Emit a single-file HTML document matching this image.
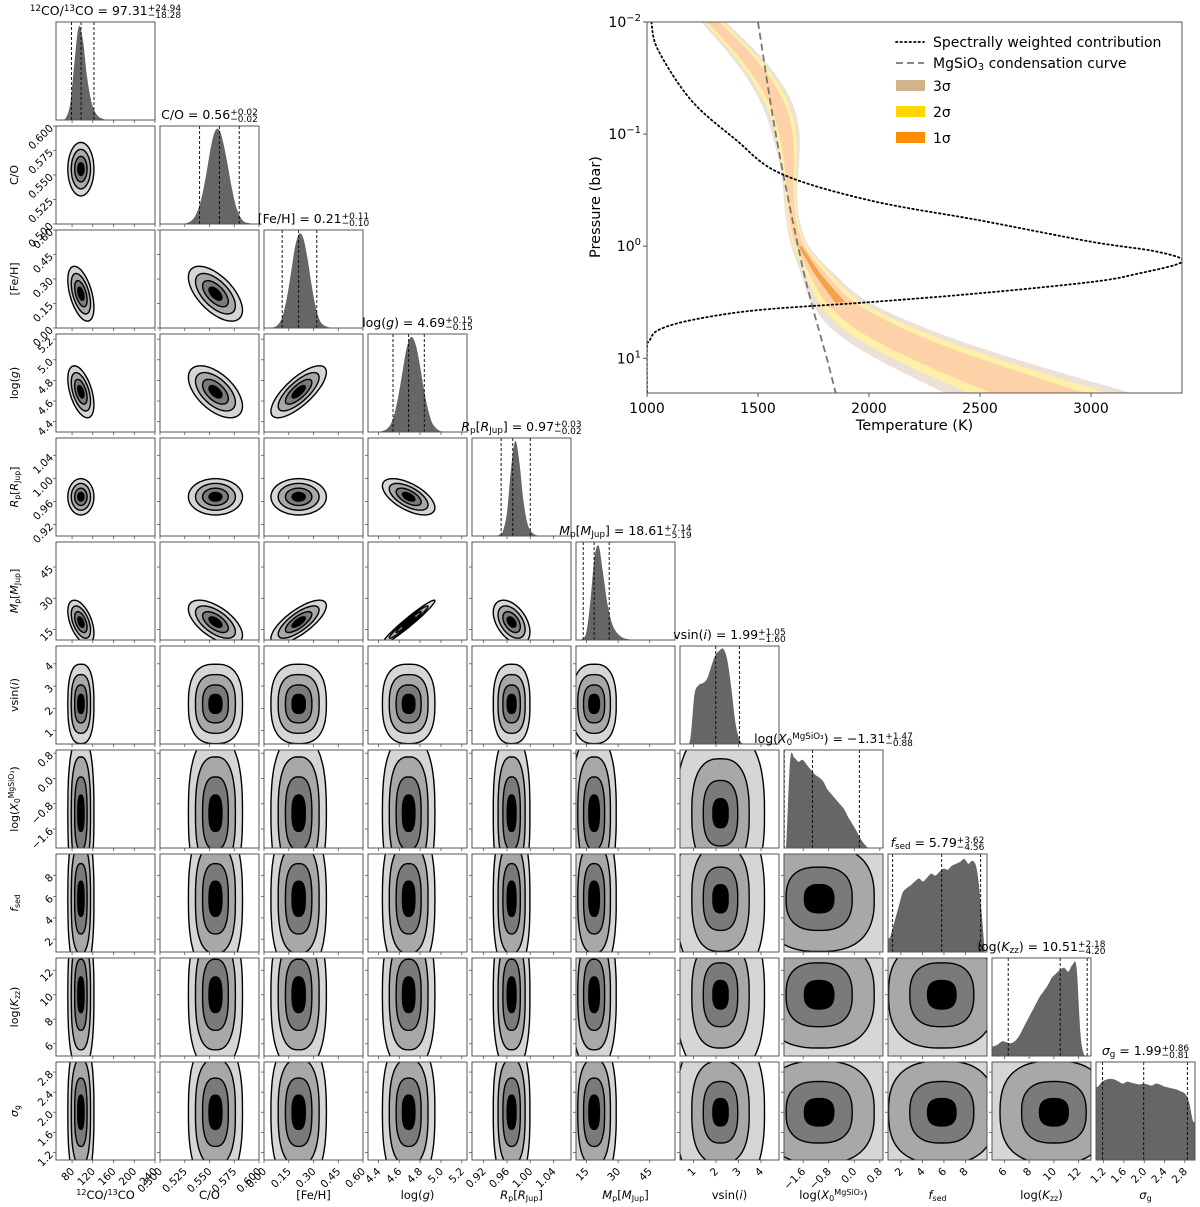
<!DOCTYPE html>
<html><head><meta charset="utf-8"><style>
html,body{margin:0;padding:0;background:#fff;}
svg{display:block;font-family:"DejaVu Sans","Liberation Sans",sans-serif;}
</style></head><body>
<svg id="fig" width="1200" height="1207" viewBox="0 0 1200 1207" xmlns="http://www.w3.org/2000/svg">
<defs id="defs"></defs>
<g id="corner"></g>
<g id="pt"></g>
</svg>
<script>
// ===== Corner plot data =====
const paramNames = ["12CO/13CO","C/O","[Fe/H]","log(g)","Rp","Mp","vsini","logX","fsed","logKzz","sigma_g"];
const medians = [97.31,0.56,0.21,4.69,0.97,18.61,1.99,-1.31,5.79,10.51,1.99];
const errHi = [24.94,0.02,0.11,0.15,0.03,7.14,1.05,1.47,3.62,2.18,0.86];
const errLo = [18.28,0.02,0.10,0.15,0.02,5.19,1.60,0.88,4.56,4.20,0.81];
const rangeLo = [49,0.5,0,4.3,0.9,10,0.4,-2.2,0.8,5,1.05];
const rangeHi = [240,0.6,0.6,5.25,1.07,57,4.8,0.9,10,13,3.0];
const spread = [12,0.013,0.08,0.12,0.015,5,0.85,1.15,3.3,2.9,0.68];
const centers2d = [97,0.556,0.21,4.69,0.968,18.6,2.2,-1.1,5.8,10.0,2.0];
const corrPairs = [[2,0,-0.5],[3,0,-0.5],[3,1,-0.55],[2,1,-0.6],[3,2,0.75],[4,3,-0.6],[5,0,-0.5],[5,1,-0.6],[5,2,0.75],[5,3,0.97],[5,4,-0.45]];
const ticks = [[80,120,160,200,240],[0.5,0.525,0.55,0.575,0.6],[0,0.15,0.3,0.45,0.6],[4.4,4.6,4.8,5.0,5.2],[0.92,0.96,1.00,1.04],[15,30,45],[1,2,3,4],[-1.6,-0.8,0.0,0.8],[2,4,6,8],[6,8,10,12],[1.2,1.6,2.0,2.4,2.8]];
const tickLabels = [["80","120","160","200","240"],["0.500","0.525","0.550","0.575","0.600"],["0.00","0.15","0.30","0.45","0.60"],["4.4","4.6","4.8","5.0","5.2"],["0.92","0.96","1.00","1.04"],["15","30","45"],["1","2","3","4"],["−1.6","−0.8","0.0","0.8"],["2","4","6","8"],["6","8","10","12"],["1.2","1.6","2.0","2.4","2.8"]];
const hist0 = [0,0,0.03,0.18,0.6,0.95,0.82,0.45,0.2,0.08,0.03,0.01,0,0,0,0,0,0,0,0,0,0,0,0];
const hist1 = [0,0,0,0,0,0,0.01,0.03,0.08,0.18,0.35,0.58,0.82,0.96,0.95,0.8,0.58,0.35,0.17,0.07,0.02,0.01,0,0];
const hist2 = [0,0,0.01,0.04,0.12,0.3,0.55,0.82,0.96,0.92,0.72,0.45,0.22,0.08,0.03,0.01,0,0,0,0,0,0,0,0];
const hist3 = [0,0,0,0.01,0.03,0.08,0.2,0.4,0.65,0.88,0.97,0.9,0.7,0.45,0.24,0.1,0.04,0.01,0,0,0,0,0,0];
const hist4 = [0,0,0,0,0,0,0.01,0.05,0.25,0.7,0.97,0.75,0.35,0.12,0.04,0.01,0,0,0,0,0,0,0,0];
const hist5 = [0,0.01,0.08,0.4,0.85,0.96,0.7,0.4,0.2,0.1,0.05,0.02,0.01,0,0,0,0,0,0,0,0,0,0,0];
const hist6 = [0,0,0.05,0.5,0.6,0.62,0.66,0.78,0.9,0.95,0.97,0.85,0.55,0.2,0.04,0,0,0,0,0,0,0,0,0];
const hist7 = [0,0.9,0.92,0.88,0.9,0.85,0.8,0.75,0.72,0.68,0.6,0.55,0.5,0.45,0.4,0.32,0.25,0.18,0.1,0.04,0,0,0,0];
const hist8 = [0.15,0.3,0.45,0.6,0.65,0.68,0.72,0.75,0.72,0.76,0.8,0.78,0.82,0.85,0.84,0.88,0.9,0.92,0.95,0.9,0.93,0.85,0.5,0];
const hist9 = [0.1,0.12,0.15,0.14,0.13,0.15,0.2,0.28,0.36,0.44,0.52,0.6,0.66,0.72,0.8,0.84,0.88,0.9,0.86,0.93,0.9,0.2,0,0];
const hist10 = [0.75,0.8,0.82,0.83,0.82,0.8,0.78,0.8,0.79,0.78,0.77,0.78,0.77,0.76,0.78,0.77,0.75,0.74,0.73,0.72,0.7,0.68,0.6,0.4];
const hists = [hist0,hist1,hist2,hist3,hist4,hist5,hist6,hist7,hist8,hist9,hist10];

// ===== PT plot data =====
const ptLogP = [-2,-1.75,-1.5,-1.25,-1,-0.75,-0.5,-0.25,0,0.25,0.5,0.75,1,1.31];
const ptTcenter = [1300,1420,1520,1590,1625,1640,1645,1655,1690,1770,1870,2060,2340,2760];
const ptHalfWidth = [55,65,70,70,62,45,32,30,40,75,130,220,310,420];
const condLogP = [-2,-1,0,0.5,1,1.31];
const condT = [1500,1580,1680,1740,1810,1850];
const contribT = [1020,1050,1200,1400,1600,2000,2500,3000,3300,3410,3200,3000,2500,2000,1500,1200,1050,1010,1000,1000];
const contribLogP = [-2,-1.75,-1.3,-0.95,-0.65,-0.41,-0.23,-0.04,0.05,0.14,0.25,0.32,0.42,0.5,0.57,0.66,0.75,0.85,0.9,1.31];
const ptXTicks = [1000,1500,2000,2500,3000];
const ptYTicks = [-2,-1,0,1];

const NS="http://www.w3.org/2000/svg";
function mk(tag,attrs,parent){const e=document.createElementNS(NS,tag);for(const k in attrs)e.setAttribute(k,attrs[k]);if(parent)parent.appendChild(e);return e;}
const corner=document.getElementById('corner');
const defs=document.getElementById('defs');
const N=11, L0=56, T0=22, STEP=104, W=99, H=98;
function pl(c){return L0+c*STEP;}
function pt(r){return T0+r*STEP;}
function sx(c,v){return pl(c)+(v-rangeLo[c])/(rangeHi[c]-rangeLo[c])*W;}
function sy(r,v){return pt(r)+H-(v-rangeLo[r])/(rangeHi[r]-rangeLo[r])*H;}
function corr(i,j){for(const p of corrPairs){if((p[0]===i&&p[1]===j)||(p[0]===j&&p[1]===i))return p[2];}return 0;}
function fmt(v){return v.toFixed(2);}
function smoothPath(pts){
  let d=`M${pts[0][0].toFixed(1)},${pts[0][1].toFixed(1)}`;
  for(let i=0;i<pts.length-1;i++){
    const p0=pts[Math.max(0,i-1)],p1=pts[i],p2=pts[i+1],p3=pts[Math.min(pts.length-1,i+2)];
    const c1=[p1[0]+(p2[0]-p0[0])/6,p1[1]+(p2[1]-p0[1])/6],c2=[p2[0]-(p3[0]-p1[0])/6,p2[1]-(p3[1]-p1[1])/6];
    d+=` C${c1[0].toFixed(1)},${c1[1].toFixed(1)} ${c2[0].toFixed(1)},${c2[1].toFixed(1)} ${p2[0].toFixed(1)},${p2[1].toFixed(1)}`;
  }
  return d;
}

function addLabelText(parent,idx,x,y,size,anchor,rot){
  const t=mk('text',{x:x,y:y,'font-size':size,'text-anchor':anchor,fill:'#000'},parent);
  if(rot)t.setAttribute('transform',`rotate(${rot} ${x} ${y})`);
  const sub=(s)=>{const ts=mk('tspan',{'font-size':size*0.7,'baseline-shift':'-25%'},t);ts.textContent=s;};
  const sup=(s)=>{const ts=mk('tspan',{'font-size':size*0.7,'baseline-shift':'45%'},t);ts.textContent=s;};
  const norm=(s,it)=>{const ts=mk('tspan',{},t);ts.textContent=s;if(it)ts.setAttribute('font-style','italic');};
  switch(idx){
    case 0: sup('12');norm('CO/');sup('13');norm('CO');break;
    case 1: norm('C/O');break;
    case 2: norm('[Fe/H]');break;
    case 3: norm('log(');norm('g',true);norm(')');break;
    case 4: norm('R',true);sub('p');norm('[');norm('R',true);sub('Jup');norm(']');break;
    case 5: norm('M',true);sub('p');norm('[');norm('M',true);sub('Jup');norm(']');break;
    case 6: norm('vsin(');norm('i',true);norm(')');break;
    case 7: norm('log(');norm('X',true);sub('0');sup('MgSiO₃');norm(')');break;
    case 8: norm('f',true);sub('sed');break;
    case 9: norm('log(');norm('K',true);sub('zz');norm(')');break;
    case 10: norm('σ',true);sub('g');break;
  }
  return t;
}

const broad=[false,false,false,false,false,false,true,true,true,true,true];
for(let r=0;r<N;r++){
  for(let c=0;c<=r;c++){
    const g=mk('g',{},corner);
    
    
    const cid=`clip${r}_${c}`;
    const cp=mk('clipPath',{id:cid},defs);
    mk('rect',{x:pl(c),y:pt(r),width:W,height:H},cp);
    const inner=mk('g',{'clip-path':`url(#${cid})`},g);
    if(r===c){
      const h=hists[c];const nb=h.length;const bw=W/nb;
      const pts=[[pl(c),pt(r)+H-h[0]*H]];
      for(let k=0;k<nb;k++)pts.push([pl(c)+(k+0.5)*bw,pt(r)+H-h[k]*H]);
      pts.push([pl(c)+W,pt(r)+H-h[nb-1]*H]);
      const d=smoothPath(pts)+` L${pl(c)+W},${pt(r)+H} L${pl(c)},${pt(r)+H} Z`;
      const p=mk('path',{d:d,fill:'#666',stroke:'none'},inner);
      
      
      [medians[c]-errLo[c],medians[c],medians[c]+errHi[c]].forEach(v=>{
        const ln=mk('line',{x1:sx(c,v),x2:sx(c,v),y1:pt(r),y2:pt(r)+H,stroke:'#000','stroke-width':0.9,'stroke-dasharray':'3,2'},inner);
        
        
      });
      const tx=pl(c)+W/2, ty=pt(r)-7;
      const tt=addLabelText(g,c,tx,ty,12.5,'middle',0);
      const eq=mk('tspan',{},tt);eq.textContent=` = ${fmt(medians[c]).replace('-','−')}`;
      const s1=mk('tspan',{'font-size':9,'baseline-shift':'45%'},tt);s1.textContent=`+${fmt(errHi[c])}`;
      const s2=mk('tspan',{'font-size':9,'baseline-shift':'-30%'},tt);s2.textContent=`−${fmt(errLo[c])}`;
      const wlen=s1.getComputedTextLength?s1.getComputedTextLength():28;
      s2.setAttribute('dx',-(wlen||28));
      
      
    } else {
      const rho=corr(r,c);
      const bb=broad[r]&&broad[c];
      const levels=bb?[2.3,1.5,0.9,0.4]:[2.1,1.55,1.0,0.5];
      const fills=['#d6d6d6','#a8a8a8','#7a7a7a','#000'];
      const ex=(broad[r]||broad[c])?2/2.6:1; // superellipse exponent (1 = ellipse)
      levels.forEach((k,li)=>{
        let d='';
        for(let a=0;a<=72;a++){
          const t=a/72*2*Math.PI;
          const ct=Math.sign(Math.cos(t))*Math.pow(Math.abs(Math.cos(t)),ex);
          const st=Math.sign(Math.sin(t))*Math.pow(Math.abs(Math.sin(t)),ex);
          const vx=centers2d[c]+k*spread[c]*ct;
          const vy=centers2d[r]+k*spread[r]*(rho*ct+Math.sqrt(1-rho*rho)*st);
          d+=(a?'L':'M')+sx(c,vx).toFixed(1)+','+sy(r,vy).toFixed(1);
        }
        const p=mk('path',{d:d+'Z',fill:fills[li],stroke:'#000','stroke-width':1.4},inner);
        
        
      });
    }
    const fr=mk('rect',{x:pl(c),y:pt(r),width:W,height:H,fill:'none',stroke:'#555','stroke-width':1},g);
    
    
    ticks[c].forEach(v=>{const x=sx(c,v);if(x>=pl(c)-0.5&&x<=pl(c)+W+0.5)mk('line',{x1:x,x2:x,y1:pt(r)+H,y2:pt(r)+H+3,stroke:'#555','stroke-width':0.8},g);});
    if(r!==c)ticks[r].forEach(v=>{const y=sy(r,v);if(y>=pt(r)-0.5&&y<=pt(r)+H+0.5)mk('line',{x1:pl(c)-3,x2:pl(c),y1:y,y2:y,stroke:'#555','stroke-width':0.8},g);});
  }
}
for(let c=0;c<N;c++){
  ticks[c].forEach((v,k)=>{
    const x=sx(c,v),y=pt(N-1)+H+6;
    const t=mk('text',{x:x+3,y:y+6,'font-size':10.5,'text-anchor':'end',transform:`rotate(-45 ${x+3} ${y+6})`},corner);
    t.textContent=tickLabels[c][k];
    
    
  });
  const xl=addLabelText(corner,c,pl(c)+W/2,1199,11.5,'middle',0);
  
  
}
for(let r=1;r<N;r++){
  ticks[r].forEach((v,k)=>{
    const y=sy(r,v),x=pl(0)-5;
    const t=mk('text',{x:x,y:y+4,'font-size':10.5,'text-anchor':'end',transform:`rotate(-45 ${x} ${y})`},corner);
    t.textContent=tickLabels[r][k];
    
    
  });
  const yl=addLabelText(corner,r,18,pt(r)+H/2,11,'middle',-90);
  
  
}

// ===== PT plot =====
const ptg=document.getElementById('pt');
const AX0=647,AX1=1182,AY0=22,AY1=393;
const T_LO=1000,T_HI=3410,P_LO=-2,P_HI=1.31;
function tX(T){return AX0+(T-T_LO)/(T_HI-T_LO)*(AX1-AX0);}
function pY(lp){return AY0+(lp-P_LO)/(P_HI-P_LO)*(AY1-AY0);}
mk('clipPath',{id:'ptclip'},defs).appendChild(mk('rect',{x:AX0,y:AY0,width:AX1-AX0,height:AY1-AY0}));
const pin=mk('g',{'clip-path':'url(#ptclip)'},ptg);
function band(frac,color,name,lpMin,lpMax){
  const idx=[];
  for(let i=0;i<ptLogP.length;i++)if(ptLogP[i]>=lpMin&&ptLogP[i]<=lpMax)idx.push(i);
  const left=idx.map(i=>[tX(ptTcenter[i]-frac*ptHalfWidth[i]),pY(ptLogP[i])]);
  const right=idx.slice().reverse().map(i=>[tX(ptTcenter[i]+frac*ptHalfWidth[i]),pY(ptLogP[i])]);
  const d=smoothPath(left)+' L'+smoothPath(right).slice(1)+'Z';
  const p=mk('path',{d:d,fill:color,stroke:'none'},pin);
  
  
}
band(1.0,'#ebe1d6','band-3sigma',-2,2);
band(0.75,'#fff0a8','band-2sigma',-2,2);
band(0.5,'#fdd2a8','band-1sigma',-2,2);
band(0.18,'#f7a048','band-1sigma-core',-0.1,0.6);
const cl=mk('path',{d:smoothPath(condLogP.map((lp,i)=>[tX(condT[i]),pY(lp)])),fill:'none',stroke:'#777','stroke-width':1.8,'stroke-dasharray':'7,4'},pin);


const ct=mk('path',{d:smoothPath(contribT.map((T,i)=>[tX(T),pY(contribLogP[i])])),fill:'none',stroke:'#000','stroke-width':1.8,'stroke-dasharray':'1.5,3','stroke-linecap':'round'},pin);


const fr=mk('rect',{x:AX0,y:AY0,width:AX1-AX0,height:AY1-AY0,fill:'none',stroke:'#555','stroke-width':1},ptg);


ptXTicks.forEach(T=>{const x=tX(T);mk('line',{x1:x,x2:x,y1:AY1,y2:AY1+4,stroke:'#555'},ptg);
  const t=mk('text',{x:x,y:AY1+20,'font-size':14,'text-anchor':'middle'},ptg);t.textContent=T;
  
  });
ptYTicks.forEach(lp=>{const y=pY(lp);mk('line',{x1:AX0-4,x2:AX0,y1:y,y2:y,stroke:'#555'},ptg);
  const t=mk('text',{x:AX0-6,y:y+5,'font-size':14,'text-anchor':'end'},ptg);
  mk('tspan',{},t).textContent='10';
  mk('tspan',{'font-size':10,'baseline-shift':'60%'},t).textContent=lp<0?'−'+Math.abs(lp):String(lp);
  
  });
const xt=mk('text',{x:(AX0+AX1)/2,y:430,'font-size':14.5,'text-anchor':'middle'},ptg);xt.textContent='Temperature (K)';


const yt=mk('text',{x:600,y:207,'font-size':14.5,'text-anchor':'middle',transform:'rotate(-90 600 207)'},ptg);yt.textContent='Pressure (bar)';


const lg=mk('g',{},ptg);


mk('line',{x1:896,x2:924,y1:42,y2:42,stroke:'#000','stroke-width':1.8,'stroke-dasharray':'1.5,3','stroke-linecap':'round'},lg);
mk('line',{x1:896,x2:924,y1:63,y2:63,stroke:'#777','stroke-width':1.8,'stroke-dasharray':'7,4'},lg);
mk('rect',{x:896,y:80,width:29,height:11,fill:'#d2b48c'},lg);
mk('rect',{x:896,y:106,width:29,height:11,fill:'#ffd700'},lg);
mk('rect',{x:896,y:132,width:29,height:11,fill:'#ff8c00'},lg);
const l1=mk('text',{x:933,y:47,'font-size':14},lg);l1.textContent='Spectrally weighted contribution';
const l2=mk('text',{x:933,y:68,'font-size':14},lg);
mk('tspan',{},l2).textContent='MgSiO';
mk('tspan',{'font-size':10,'baseline-shift':'-20%'},l2).textContent='3';
mk('tspan',{},l2).textContent=' condensation curve';
[['3σ',91],['2σ',117],['1σ',143]].forEach(a=>{const t=mk('text',{x:933,y:a[1],'font-size':14},lg);t.textContent=a[0];
  
  });
</script>
</body></html>
